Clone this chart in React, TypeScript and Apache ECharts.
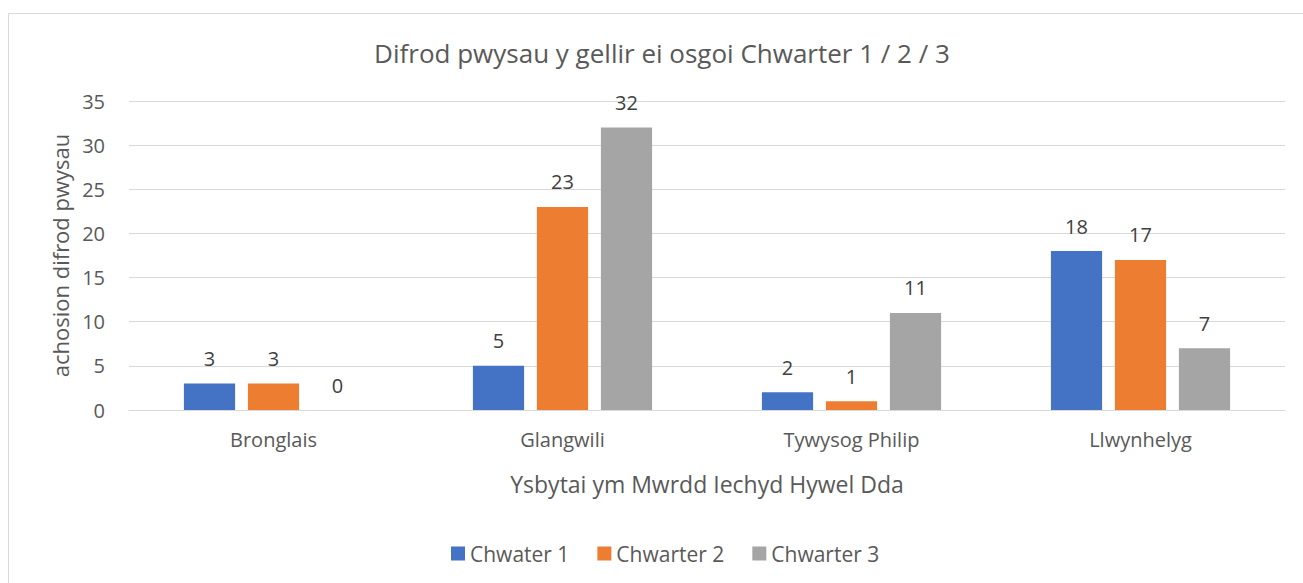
import React, { useEffect, useRef } from "react";
import * as echarts from "echarts";

const categories = ["Bronglais", "Glangwili", "Tywysog Philip", "Llwynhelyg"];
const seriesNames = ["Chwater 1", "Chwarter 2", "Chwarter 3"];
const q1 = [3, 5, 2, 18];
const q2 = [3, 23, 1, 17];
const q3 = [0, 32, 11, 7];
const colors = ["#4472C4", "#ED7D31", "#A5A5A5"];
const yTicks = [0, 5, 10, 15, 20, 25, 30, 35];

const FONT = "'Open Sans', sans-serif";
const TXT = "#595959";
const W = 1324;

export default function App() {
  const ref = useRef<HTMLDivElement>(null);
  useEffect(() => {
    if (!ref.current) return;
    const chart = echarts.init(ref.current, undefined, { renderer: "svg" });
    const data = [q1, q2, q3];
    chart.setOption({
      animation: false,
      backgroundColor: "#ffffff",
      textStyle: { fontFamily: FONT },
      graphic: [
        {
          type: "rect",
          shape: { x: 8.5, y: 13.5, width: 1320, height: 620 },
          style: { fill: "none", stroke: "#d9d9d9", lineWidth: 1 },
          silent: true,
        },
      ],
      title: {
        text: "Difrod pwysau y gellir ei osgoi Chwarter 1 / 2 / 3",
        left: "center",
        top: 35,
        textStyle: { fontFamily: FONT, fontSize: 26, fontWeight: "normal", color: TXT },
      },
      legend: {
        data: seriesNames,
        bottom: 14,
        left: 446,
        itemWidth: 14,
        itemHeight: 14,
        itemGap: 28,
        icon: "rect",
        textStyle: { fontFamily: FONT, fontSize: 21, color: TXT },
      },
      grid: { left: 129, right: W - 1285, top: 101, bottom: 173, containLabel: false },
      xAxis: {
        type: "category",
        data: categories,
        name: "Ysbytai ym Mwrdd Iechyd Hywel Dda",
        nameLocation: "middle",
        nameGap: 62,
        nameTextStyle: { fontFamily: FONT, fontSize: 23, color: TXT },
        axisLine: { show: true, lineStyle: { color: "#d9d9d9", width: 1 } },
        axisTick: { show: false },
        axisLabel: { fontFamily: FONT, fontSize: 20, color: TXT, margin: 19 },
      },
      yAxis: {
        type: "value",
        min: yTicks[0],
        max: yTicks[yTicks.length - 1],
        interval: 5,
        name: "achosion difrod pwysau",
        nameLocation: "middle",
        nameGap: 54,
        nameRotate: 90,
        nameTextStyle: { fontFamily: FONT, fontSize: 22, color: TXT },
        axisLine: { show: false },
        axisTick: { show: false },
        axisLabel: { fontFamily: FONT, fontSize: 20, color: TXT, margin: 24 },
        splitLine: { lineStyle: { color: "#d9d9d9", width: 1 } },
      },
      series: seriesNames.map((name, i) => ({
        name,
        type: "bar",
        data: data[i],
        barGap: "25%",
        barCategoryGap: "38%",
        itemStyle: { color: colors[i] },
        label: {
          show: true,
          position: "top",
          distance: 15,
          fontFamily: FONT,
          fontSize: 20,
          color: "#404040",
        },
      })),
    });
    return () => chart.dispose();
  }, []);
  return (
    <div style={{ position: "fixed", left: 0, top: 0, width: 1303, height: 583, overflow: "hidden" }}>
      <div ref={ref} style={{ width: W, height: 583 }} />
    </div>
  );
}
